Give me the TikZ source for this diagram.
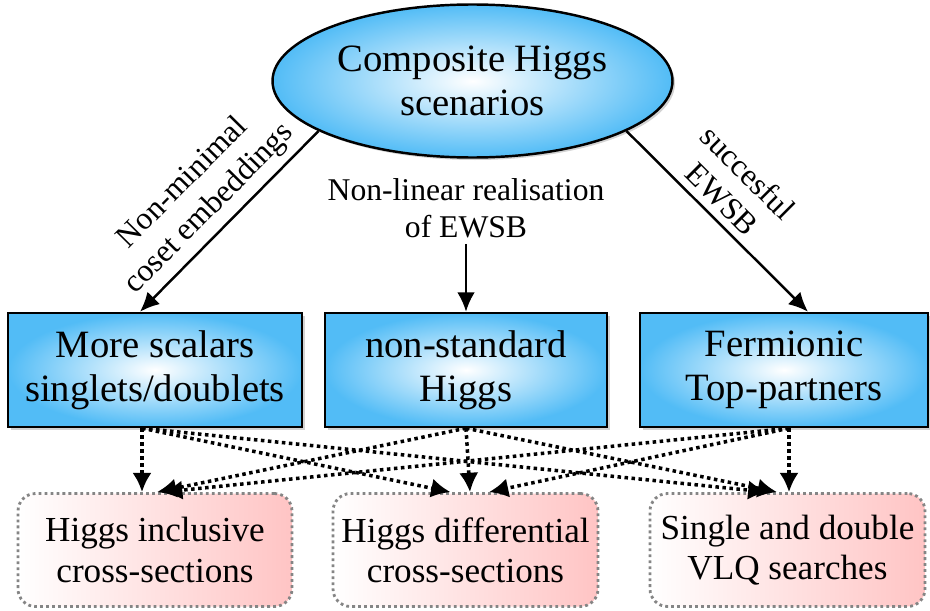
\documentclass[tikz,border=0pt]{standalone}
\usepackage{fontspec}
\setmainfont{LiberationSerif}[Extension=.ttf, UprightFont=*-Regular, BoldFont=*-Bold, ItalicFont=*-Italic]
\usepackage{xcolor}
\usetikzlibrary{arrows.meta,positioning,shapes.geometric,shadows,calc}
\definecolor{ink}{HTML}{000000}
\definecolor{skyedge}{HTML}{52BCF6}
\definecolor{pinkedge}{HTML}{FFC4C4}
\definecolor{dotline}{HTML}{858585}

\begin{document}
\begin{tikzpicture}[
  >=Latex,
  scenario/.style={
    draw=ink,
    line width=1.4pt,
    shading=radial,
    inner color=white,
    outer color=skyedge,
    drop shadow={shadow xshift=0.05cm, shadow yshift=-0.05cm, opacity=0.35},
    align=center,
    minimum height=2.28cm,
    font=\fontsize{22}{25}\selectfont
  },
  probe/.style={
    draw=dotline,
    line width=1.6pt,
    dash pattern=on 1.6pt off 1.8pt,
    rounded corners=10pt,
    left color=white,
    right color=pinkedge,
    align=center,
    minimum height=2.26cm,
    font=\fontsize{20}{23}\selectfont
  },
  flow/.style={->, line width=1.4pt, draw=ink, >={Latex[length=11pt,width=10pt]}},
  dotflow/.style={->, line width=2pt, draw=ink, dash pattern=on 2pt off 2pt,
    >={Latex[length=11pt,width=11pt]}},
  lbl/.style={font=\fontsize{18}{21}\selectfont, align=center}
]

% canvas
\useasboundingbox (0,0) rectangle (18.6,12.2);

% Top ellipse
\node[
  ellipse,
  draw=ink,
  line width=1.4pt,
  shading=radial,
  inner color=white,
  outer color=skyedge,
  drop shadow={shadow xshift=0.05cm, shadow yshift=-0.05cm, opacity=0.35},
  minimum width=8cm,
  minimum height=3.06cm,
  inner sep=0pt,
  align=center,
  font=\fontsize{22}{25}\selectfont
] (higgs) at (9.45,10.58) {Composite Higgs\\scenarios};

% Middle row
\node[scenario, minimum width=5.88cm] (scalars) at (3.1,4.8) {More scalars\\singlets/doublets};
\node[scenario, minimum width=5.64cm] (nonstd) at (9.32,4.8) {non-standard\\Higgs};
\node[scenario, minimum width=5.76cm] (fermion) at (15.68,4.8) {Fermionic\\Top-partners};

% Bottom row
\node[probe, minimum width=5.48cm] (incl) at (3.1,1.2) {Higgs inclusive\\cross-sections};
\node[probe, minimum width=5.3cm] (diff) at (9.31,1.2) {Higgs differential\\cross-sections};
\node[probe, minimum width=5.5cm] (vlq) at (15.75,1.2) {Single and double\\VLQ searches};

% Ellipse to scenarios
\node[lbl] (nonlin) at (9.32,8.04) {Non-linear realisation\\of EWSB};
\draw[flow] (higgs.198) -- node[midway, sloped, above, lbl, inner sep=4pt, xshift=-0.1cm] {Non-minimal\\coset embeddings} ([xshift=-0.3cm]scalars.north);
\draw[flow] (nonlin.south) -- (nonstd.north);
\draw[flow] (higgs.342) -- node[midway, sloped, above, lbl, inner sep=4pt, xshift=-0.25cm] {succesful\\EWSB} ([xshift=0.48cm]fermion.north);

% Scenarios to searches
\draw[dotflow] ([xshift=-0.26cm]scalars.south) -- ([xshift=-0.26cm]incl.north);
\draw[dotflow] ([xshift=-0.26cm]scalars.south) -- ([xshift=-0.3cm]diff.north);
\draw[dotflow] ([xshift=-0.26cm]scalars.south) -- ([xshift=-0.4cm]vlq.north);
\draw[dotflow] (nonstd.south) -- ([xshift=0.04cm]incl.north);
\draw[dotflow] (nonstd.south) -- ([xshift=0.09cm]diff.north);
\draw[dotflow] (nonstd.south) -- ([xshift=-0.21cm]vlq.north);
\draw[dotflow] ([xshift=0.1cm]fermion.south) -- ([xshift=0.16cm]incl.north);
\draw[dotflow] ([xshift=0.1cm]fermion.south) -- ([xshift=0.47cm]diff.north);
\draw[dotflow] ([xshift=0.1cm]fermion.south) -- ([xshift=0.03cm]vlq.north);

\end{tikzpicture}
\end{document}
